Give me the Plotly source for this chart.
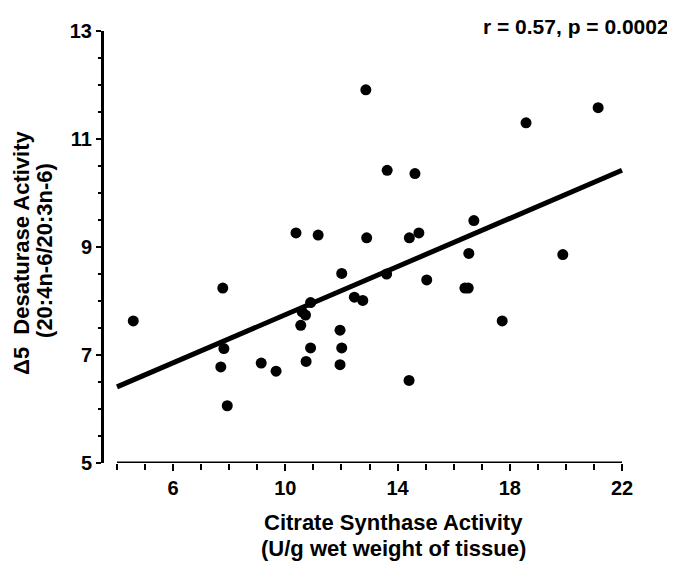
import plotly.graph_objects as go

# ---- data ----
cs_activity = [4.58, 7.77, 7.81, 7.70, 7.93, 9.14, 9.67, 10.38, 11.17, 12.90,
               12.01, 13.61, 12.46, 12.76, 10.90, 10.60, 10.72, 10.55, 11.95, 10.90,
               12.01, 10.74, 11.95, 14.41, 14.62, 13.63, 12.87, 14.42, 14.76, 16.72,
               16.54, 15.04, 16.40, 16.52, 17.73, 18.58, 21.15, 19.89]
d5_activity = [7.63, 8.24, 7.12, 6.78, 6.06, 6.85, 6.70, 9.26, 9.22, 9.17,
               8.51, 8.50, 8.07, 8.01, 7.97, 7.80, 7.74, 7.55, 7.46, 7.13,
               7.13, 6.88, 6.82, 6.53, 10.36, 10.42, 11.91, 9.17, 9.26, 9.49,
               8.88, 8.39, 8.24, 8.24, 7.63, 11.30, 11.58, 8.86]
fit_x = [4, 22]
fit_y = [6.41, 10.42]
x_ticks = [6, 10, 14, 18, 22]
y_ticks = [5, 7, 9, 11, 13]
x_axis_span = [4, 22]
stat_text = "r = 0.57, p = 0.0002"
x_title = ["Citrate Synthase Activity", "(U/g wet weight of tissue)"]
y_title = ["\u03945  Desaturase Activity", "(20:4n-6/20:3n-6)"]

# ---- layout geometry (screen pixels; page body has an 8px margin) ----
OFF = 8
W, H = 675 - OFF, 563 - OFF
PLOT_L, PLOT_R, PLOT_T, PLOT_B = 104, 625, 25, 463   # on screen
L, T = PLOT_L - OFF, PLOT_T - OFF
R, B = (W + OFF) - PLOT_R, (H + OFF) - PLOT_B
PW, PH = PLOT_R - PLOT_L, PLOT_B - PLOT_T
FONT = "Liberation Sans, Arial, Helvetica, sans-serif"


def px(xpix):
    return (xpix - PLOT_L) / PW


def py(ypix):
    return (PLOT_B - ypix) / PH


fig = go.Figure()
fig.add_trace(go.Scatter(x=fit_x, y=fit_y, mode="lines",
                         line=dict(color="black", width=5), hoverinfo="skip"))
fig.add_trace(go.Scatter(x=cs_activity, y=d5_activity, mode="markers",
                         marker=dict(color="black", size=11, line=dict(width=0))))

# x axis line (offset from the y axis)
fig.add_shape(type="line", xref="x", yref="y", x0=x_axis_span[0], x1=x_axis_span[1],
              y0=y_ticks[0], y1=y_ticks[0], line=dict(color="black", width=3))

fig.update_xaxes(range=[4 - 13 / 28.06, 22 + 3 / 28.06], showgrid=False, zeroline=False,
                 showline=False, tickmode="array", tickvals=x_ticks,
                 ticks="outside", ticklen=7, tickwidth=2, tickcolor="black",
                 minor=dict(dtick=1, tick0=4, ticks="outside", ticklen=6,
                            tickwidth=2, tickcolor="black"),
                 tickfont=dict(family=FONT, size=20, color="black", weight="bold"))
fig.update_yaxes(range=[5, 13], showgrid=False, zeroline=False,
                 showline=True, linewidth=3, linecolor="black",
                 tickmode="array", tickvals=y_ticks,
                 ticks="outside", ticklen=5, tickwidth=2, tickcolor="black",
                 minor=dict(dtick=0.5, tick0=5, ticks="outside", ticklen=3,
                            tickwidth=2, tickcolor="black"),
                 tickfont=dict(family=FONT, size=20, color="black", weight="bold"))

annos = [
    dict(text=stat_text, x=px(671), y=py(20), xanchor="right", yanchor="middle",
         font=dict(size=21)),
    dict(text=x_title[0], x=px(393), y=py(523), xanchor="center", yanchor="middle",
         font=dict(size=22)),
    dict(text=x_title[1], x=px(393), y=py(550), xanchor="center", yanchor="middle",
         font=dict(size=22)),
    dict(text=y_title[0], x=px(22), y=py(250), xanchor="center", yanchor="middle",
         textangle=-90, font=dict(size=22)),
    dict(text=y_title[1], x=px(45), y=py(248), xanchor="center", yanchor="middle",
         textangle=-90, font=dict(size=22)),
]
for a in annos:
    a["font"].update(family=FONT, color="black", weight="bold")
    fig.add_annotation(xref="paper", yref="paper", showarrow=False, **a)

fig.update_layout(width=W, height=H, margin=dict(l=L, r=R, t=T, b=B),
                  paper_bgcolor="white", plot_bgcolor="white", showlegend=False)

fig.write_html("out.html")
